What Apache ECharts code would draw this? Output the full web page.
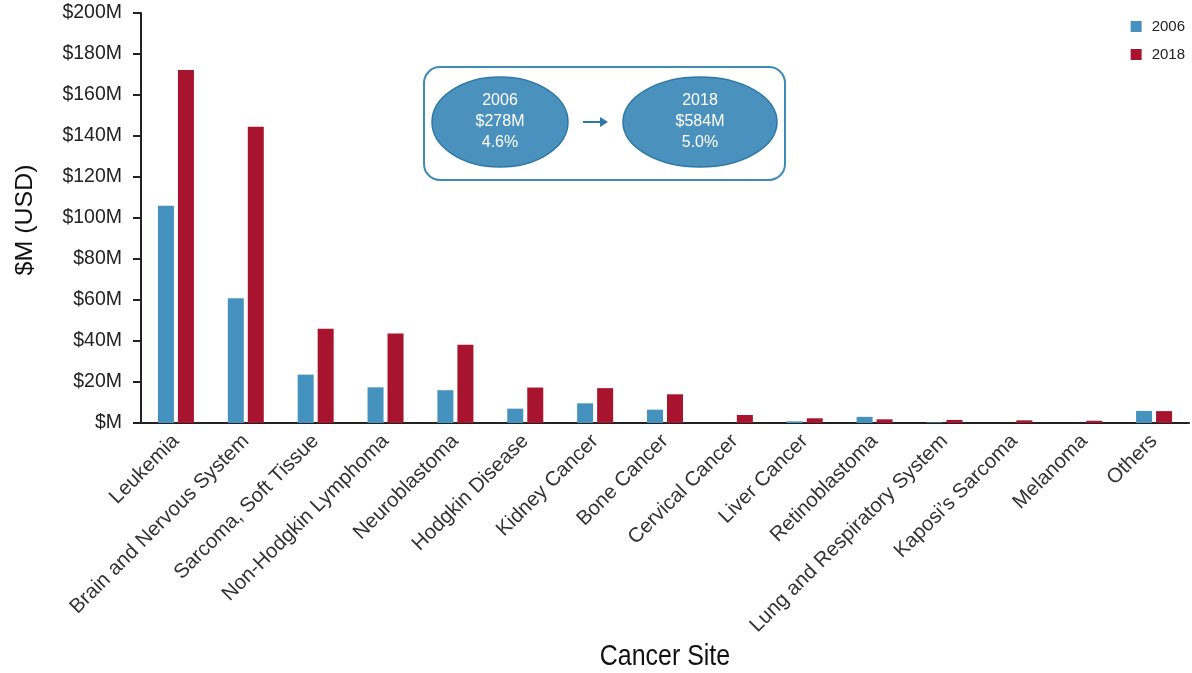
<!DOCTYPE html>
<html>
<head>
<meta charset="utf-8">
<script src="https://cdn.jsdelivr.net/npm/echarts@6/dist/echarts.min.js"></script>
<style>
  html, body { margin: 0; padding: 0; background: #fff; }
  #main { width: 1192px; height: 673px; }
</style>
</head>
<body>
<div id="main"></div>
<script>
// categories and values ($M)
const sites = [
  "Leukemia", "Brain and Nervous System", "Sarcoma, Soft Tissue",
  "Non-Hodgkin Lymphoma", "Neuroblastoma", "Hodgkin Disease",
  "Kidney Cancer", "Bone Cancer", "Cervical Cancer", "Liver Cancer",
  "Retinoblastoma", "Lung and Respiratory System", "Kaposi\u2019s Sarcoma",
  "Melanoma", "Others"
];
const values2006 = [106, 60.8, 23.6, 17.4, 16, 7, 9.6, 6.5, 0, 0.8, 3, 0.3, 0, 0, 5.9];
const values2018 = [172.2, 144.5, 46, 43.6, 38.2, 17.3, 17, 14, 3.9, 2.3, 1.8, 1.5, 1.3, 1.1, 5.8];
const seriesNames = ["2006", "2018"];

const blue = "#4592bf";
const red = "#a8142e";
const font = "'Liberation Sans', Helvetica, Arial, sans-serif";

var myChart = echarts.init(document.getElementById("main"));

myChart.setOption({
  animation: false,
  textStyle: { fontFamily: font },
  legend: {
    data: seriesNames,
    orient: "vertical",
    right: 2,
    top: 14,
    itemWidth: 11,
    itemHeight: 11,
    itemGap: 13,
    icon: "rect",
    textStyle: { fontSize: 15, color: "#222", fontFamily: font, padding: [0, 0, 0, 5] }
  },
  grid: { left: 141, right: 3, top: 13, bottom: 250, containLabel: false, outerBoundsMode: "none" },
  xAxis: {
    type: "category",
    data: sites,
    axisLine: { lineStyle: { color: "#222", width: 2 } },
    axisTick: { show: false },
    axisLabel: {
      interval: 0,
      rotate: 45,
      margin: 15,
      fontSize: 20.5,
      color: "#333"
    }
  },
  yAxis: {
    type: "value",
    min: 0,
    max: 200,
    interval: 20,
    axisLine: { show: true, lineStyle: { color: "#222", width: 2 } },
    axisTick: { show: true, length: 8, lineStyle: { color: "#222", width: 2 } },
    splitLine: { show: false },
    axisLabel: {
      fontSize: 19.5,
      color: "#222",
      margin: 19,
      formatter: v => "$" + (v === 0 ? "" : v) + "M"
    }
  },
  series: [
    {
      name: seriesNames[0],
      type: "bar",
      data: values2006,
      barWidth: 16,
      barGap: "25%",
      itemStyle: { color: blue }
    },
    {
      name: seriesNames[1],
      type: "bar",
      data: values2018,
      barWidth: 16,
      barGap: "25%",
      itemStyle: { color: red }
    }
  ],
  graphic: [
    // axis titles (condensed look)
    {
      type: "text",
      x: 665, y: 657,
      scaleX: 0.86,
      style: {
        text: "Cancer Site", fill: "#111", fontSize: 29,
        align: "center", verticalAlign: "middle", fontFamily: font
      }
    },
    {
      type: "text",
      x: 25, y: 220,
      rotation: Math.PI / 2,
      scaleX: 1.04,
      style: {
        text: "$M (USD)", fill: "#111", fontSize: 24,
        align: "center", verticalAlign: "middle", fontFamily: font
      }
    },
    // summary box
    {
      type: "rect",
      shape: { x: 424, y: 67, width: 361, height: 113, r: 16 },
      style: { fill: "#fff", stroke: "#3f8bb8", lineWidth: 2 }
    },
    {
      type: "ellipse",
      shape: { cx: 500, cy: 122, rx: 68, ry: 45 },
      style: { fill: "#4a92bd", stroke: "#2f78a6", lineWidth: 1.5 }
    },
    {
      type: "ellipse",
      shape: { cx: 700, cy: 122, rx: 77, ry: 45 },
      style: { fill: "#4a92bd", stroke: "#2f78a6", lineWidth: 1.5 }
    },
    {
      type: "text",
      x: 500, y: 122,
      style: {
        text: "2006\n$278M\n4.6%", fill: "#fff", fontSize: 16, lineHeight: 21,
        align: "center", verticalAlign: "middle", fontFamily: font
      }
    },
    {
      type: "text",
      x: 700, y: 122,
      style: {
        text: "2018\n$584M\n5.0%", fill: "#fff", fontSize: 16, lineHeight: 21,
        align: "center", verticalAlign: "middle", fontFamily: font
      }
    },
    {
      type: "line",
      shape: { x1: 583, y1: 122, x2: 602, y2: 122 },
      style: { stroke: "#2f78a6", lineWidth: 2 }
    },
    {
      type: "polygon",
      shape: { points: [[600, 117], [608, 122], [600, 127]] },
      style: { fill: "#2f78a6" }
    }
  ]
});
</script>
</body>
</html>
